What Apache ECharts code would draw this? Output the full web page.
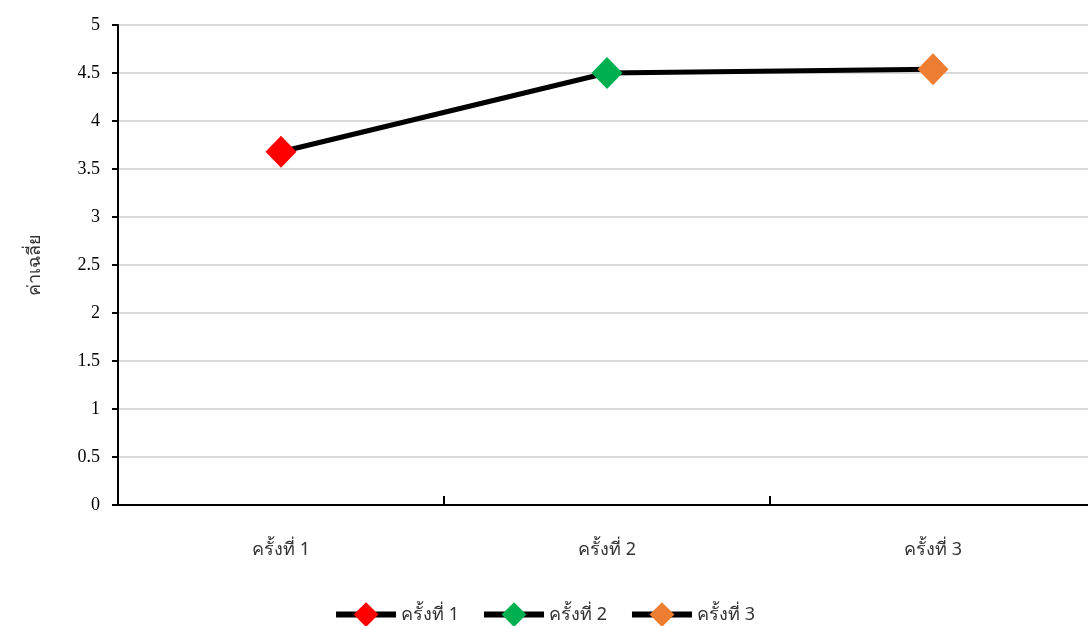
<!DOCTYPE html>
<html><head><meta charset="utf-8">
<script src="https://cdn.jsdelivr.net/npm/echarts@6/dist/echarts.min.js"></script>
<style>html,body{margin:0;padding:0;background:#fff}#c{width:1088px;height:626px}</style>
</head><body><div id="c"></div>
<script>
const categories = ['ครั้งที่ 1', 'ครั้งที่ 2', 'ครั้งที่ 3'];
const values = [3.68, 4.50, 4.54];
const pointColors = ['#FF0000', '#00B050', '#ED7D31'];
const yTicks = [0, 0.5, 1, 1.5, 2, 2.5, 3, 3.5, 4, 4.5, 5];
const yName = 'ค่าเฉลี่ย';

const chart = echarts.init(document.getElementById('c'));
const markerSeries = categories.map((name, i) => ({
  name: name,
  type: 'line',
  data: values.map((v, j) => j === i ? v : '-'),
  symbol: 'diamond',
  symbolSize: [31, 32],
  itemStyle: { color: pointColors[i] },
  lineStyle: { color: '#000', width: 5 },
  z: 5,
  animation: false
}));
chart.setOption({
  animation: false,
  grid: { left: 118, width: 978, top: 25, bottom: 121, outerBoundsMode: 'none' },
  legend: {
    data: categories.map(n => ({ name: n, lineStyle: { width: 6, color: '#000' } })),
    bottom: -6,
    left: 'center',
    itemWidth: 60,
    itemHeight: 31,
    itemGap: 22,
    textStyle: { fontFamily: 'Noto Sans, DejaVu Sans', fontSize: 18, color: '#333' }
  },
  xAxis: {
    type: 'category',
    data: categories,
    boundaryGap: true,
    axisLine: { lineStyle: { color: '#000', width: 2 } },
    axisTick: { show: true, inside: true, length: 9, lineStyle: { color: '#000', width: 2 } },
    axisLabel: { margin: 36, fontSize: 18, color: '#333', fontFamily: 'Noto Sans, DejaVu Sans' }
  },
  yAxis: {
    type: 'value',
    min: yTicks[0], max: yTicks[yTicks.length - 1], interval: 0.5,
    name: yName,
    nameLocation: 'middle',
    nameGap: 74,
    nameRotate: 90,
    nameTextStyle: { fontSize: 18, color: '#333', fontFamily: 'Noto Sans, DejaVu Sans' },
    axisLine: { show: true, lineStyle: { color: '#000', width: 2 } },
    axisTick: { show: true, length: 6, lineStyle: { color: '#000', width: 2 } },
    axisLabel: { margin: 18, fontSize: 18, color: '#000', fontFamily: 'Liberation Serif' },
    splitLine: { lineStyle: { color: '#D9D9D9', width: 2 } }
  },
  series: [{
    name: 'line',
    type: 'line',
    data: values,
    showSymbol: false,
    symbol: 'none',
    lineStyle: { color: '#000', width: 5 },
    z: 3
  }].concat(markerSeries)
});
</script></body></html>
